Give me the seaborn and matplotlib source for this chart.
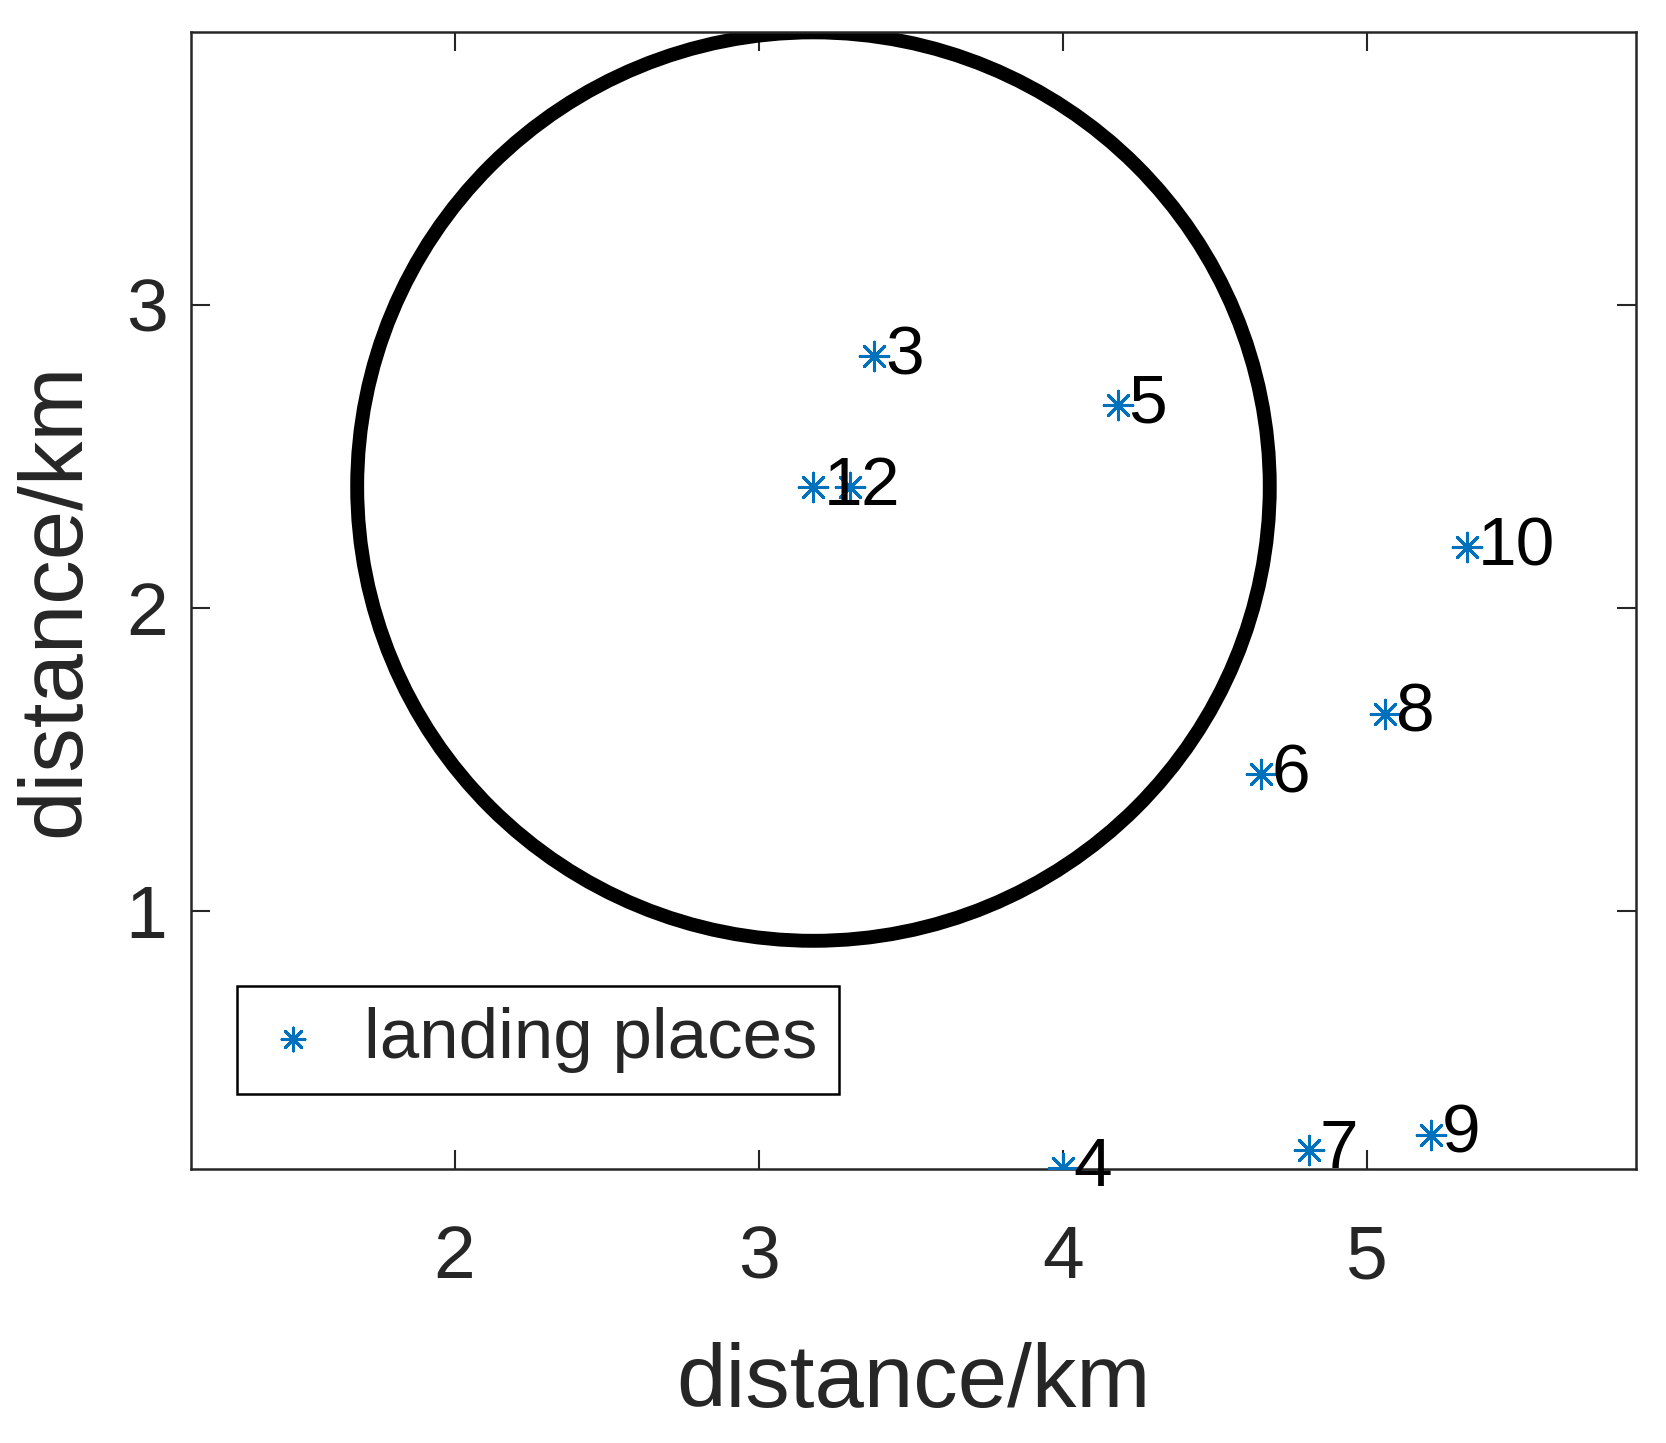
import numpy as np
import pandas as pd
import seaborn as sns
import matplotlib
matplotlib.use("Agg")
import matplotlib.pyplot as plt
from matplotlib.patches import Circle

# ---- data ----
point_ids = ["1", "2", "3", "4", "5", "6", "7", "8", "9", "10"]
x_km = [3.18, 3.30, 3.38, 4.00, 4.18, 4.65, 4.81, 5.06, 5.21, 5.33]
y_km = [2.40, 2.40, 2.83, 0.15, 2.67, 1.45, 0.21, 1.65, 0.26, 2.20]
circle_center = (3.18, 2.40)
circle_radius = 1.50
x_ticks = [2, 3, 4, 5]
y_ticks = [1, 2, 3]
legend_label = "landing places"
axis_label = "distance/km"

df = pd.DataFrame({"x": x_km, "y": y_km, "id": point_ids})

sns.set_style("ticks")
plt.rcParams["font.family"] = ["Liberation Sans", "DejaVu Sans"]

fig = plt.figure(figsize=(16.66, 14.43), dpi=100)
ax = fig.add_axes([0.1147, 0.19, 0.8673, 0.788])

ax.add_patch(Circle(circle_center, circle_radius, fill=False, lw=10, ec="black", zorder=2))

blue = "#0072BD"
sns.scatterplot(data=df, x="x", y="y", ax=ax, marker=(8, 2, 0), color=blue,
                s=420, linewidth=2.2, label=legend_label, zorder=3)

for xi, yi, t in zip(df["x"], df["y"], df["id"]):
    ax.text(xi + 0.035, yi, t, fontsize=50, va="center", ha="left", color="black", zorder=4)

ax.set_xlim(1.134, 5.884)
ax.set_ylim(0.147, 3.902)
ax.set_xticks(x_ticks)
ax.set_yticks(y_ticks)
ax.tick_params(direction="in", length=14, width=1.5, top=True, right=True,
               labelsize=54, colors="#262626")
ax.tick_params(axis="x", pad=40)
ax.tick_params(axis="y", pad=17)
for s in ax.spines.values():
    s.set_visible(True)
    s.set_linewidth(1.8)
    s.set_color("#262626")

ax.set_xlabel(axis_label, fontsize=64, color="#262626", labelpad=35)
ax.set_ylabel(axis_label, fontsize=64, color="#262626", labelpad=20)

leg = ax.legend(loc="upper left", bbox_to_anchor=(0.0316, 0.161), borderaxespad=0,
                fontsize=51, frameon=True, fancybox=False, edgecolor="black", framealpha=1,
                handlelength=1.0, handletextpad=0.5, borderpad=0.3, markerscale=0.8)
leg.get_frame().set_linewidth(1.8)

fig.savefig("out.png", dpi=100)
